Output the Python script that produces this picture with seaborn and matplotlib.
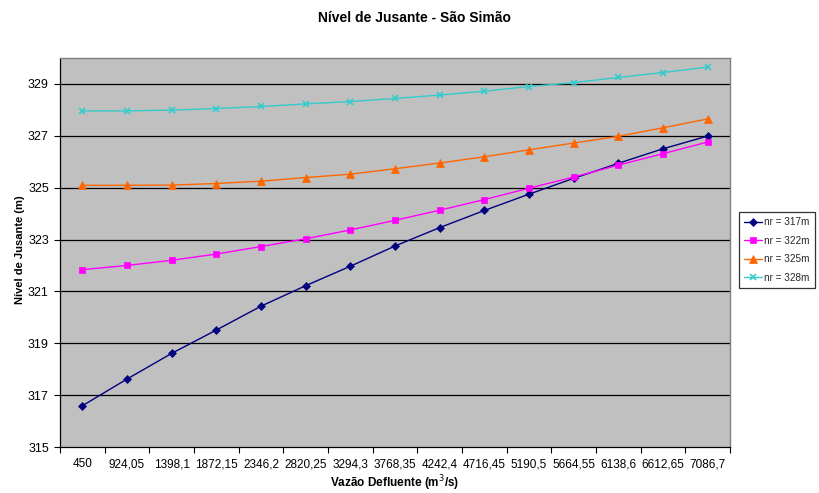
import matplotlib
matplotlib.use("Agg")
import matplotlib.pyplot as plt
from matplotlib.ticker import FixedLocator
import seaborn as sns
import pandas as pd

# Discharge categories (m³/s) as printed on the axis
vazao = ["450", "924,05", "1398,1", "1872,15", "2346,2", "2820,25", "3294,3",
         "3768,35", "4242,4", "4716,45", "5190,5", "5664,55", "6138,6",
         "6612,65", "7086,7"]

# Tailwater level (m) for each reservoir level nr
nr_317 = [316.59, 317.62, 318.61, 319.51, 320.43, 321.22, 321.97, 322.75,
          323.46, 324.12, 324.75, 325.36, 325.94, 326.50, 326.99]
nr_322 = [321.84, 322.00, 322.20, 322.44, 322.73, 323.03, 323.37, 323.74,
          324.13, 324.54, 324.98, 325.41, 325.87, 326.31, 326.76]
nr_325 = [325.09, 325.09, 325.10, 325.16, 325.25, 325.39, 325.52, 325.73,
          325.95, 326.19, 326.46, 326.72, 326.98, 327.31, 327.65]
nr_328 = [327.96, 327.96, 327.99, 328.05, 328.13, 328.23, 328.32, 328.44,
          328.57, 328.72, 328.90, 329.05, 329.25, 329.44, 329.65]

series_names = ["nr = 317m", "nr = 322m", "nr = 325m", "nr = 328m"]
series_values = [nr_317, nr_322, nr_325, nr_328]
colors = ["#000080", "#FF00FF", "#FF6600", "#33CCCC"]
markers = ["D", "s", "^", "x"]
marker_sizes = [4, 5, 5.5, 5]

y_ticks = [315, 317, 319, 321, 323, 325, 327, 329]

rows = []
for name, vals in zip(series_names, series_values):
    for i, v in enumerate(vals):
        rows.append({"pos": i, "nivel": v, "serie": name})
df = pd.DataFrame(rows)

sns.set_theme(style="white")
plt.rcParams["font.family"] = ["Liberation Sans", "DejaVu Sans"]

fig = plt.figure(figsize=(8.19, 4.93), dpi=100)
ax = fig.add_axes([60 / 819, (493 - 447) / 493, 670 / 819, 389 / 493])
ax.set_facecolor("#C0C0C0")

for name, col, mk, ms in zip(series_names, colors, markers, marker_sizes):
    sub = df[df["serie"] == name]
    sns.lineplot(data=sub, x="pos", y="nivel", ax=ax, color=col, marker=mk,
                 markersize=ms, markeredgecolor=col,
                 markeredgewidth=1.2 if mk == "x" else 0.5,
                 linewidth=1.0, label=name, zorder=3)

ax.set_xlim(-0.5, len(vazao) - 0.5)
ax.set_ylim(315, 330)

# gridlines at the labelled levels
for y in y_ticks[1:]:
    ax.axhline(y, color="black", linewidth=0.9, zorder=1)

ax.set_yticks(y_ticks)
ax.set_yticklabels([str(t) for t in y_ticks], fontsize=9)
ax.set_xticks(range(len(vazao)))
ax.set_xticklabels(vazao, fontsize=8.5)
ax.xaxis.set_minor_locator(FixedLocator([i - 0.5 for i in range(len(vazao) + 1)]))
ax.tick_params(axis="x", which="major", length=0, pad=8, colors="black")
ax.tick_params(axis="x", which="minor", length=4, width=0.8, direction="out",
               color="black", bottom=True)
ax.tick_params(axis="y", which="major", length=4, width=0.8, direction="out",
               color="black", left=True, pad=4, colors="black")

for side in ["left", "bottom"]:
    ax.spines[side].set_color("black")
    ax.spines[side].set_linewidth(0.9)
for side in ["top", "right"]:
    ax.spines[side].set_color("#808080")
    ax.spines[side].set_linewidth(1.0)

ax.set_xlabel("")
ax.set_ylabel("")

fig.text(414 / 819, 1 - 18 / 493, "Nível de Jusante - São Simão", ha="center",
         va="center", fontsize=10, fontweight="bold", color="black")
fig.text(395 / 819, 1 - 483 / 493, "Vazão Defluente (m$^3$/s)", ha="center",
         va="center", fontsize=8.5, fontweight="bold", color="black")
fig.text(20 / 819, 1 - 250 / 493, "Nível de Jusante (m)", ha="center",
         va="center", rotation=90, fontsize=8, fontweight="bold", color="black")

leg = ax.legend(loc="center left", bbox_to_anchor=(739 / 819, 1 - 250 / 493),
                bbox_transform=fig.transFigure, frameon=True, fancybox=False,
                fontsize=7.2, handlelength=1.8, handletextpad=0.2, borderpad=0.5,
                labelspacing=0.85, borderaxespad=0)
leg.get_frame().set_edgecolor("black")
leg.get_frame().set_linewidth(0.9)
leg.get_frame().set_facecolor("white")

fig.savefig("out.png", dpi=100)
